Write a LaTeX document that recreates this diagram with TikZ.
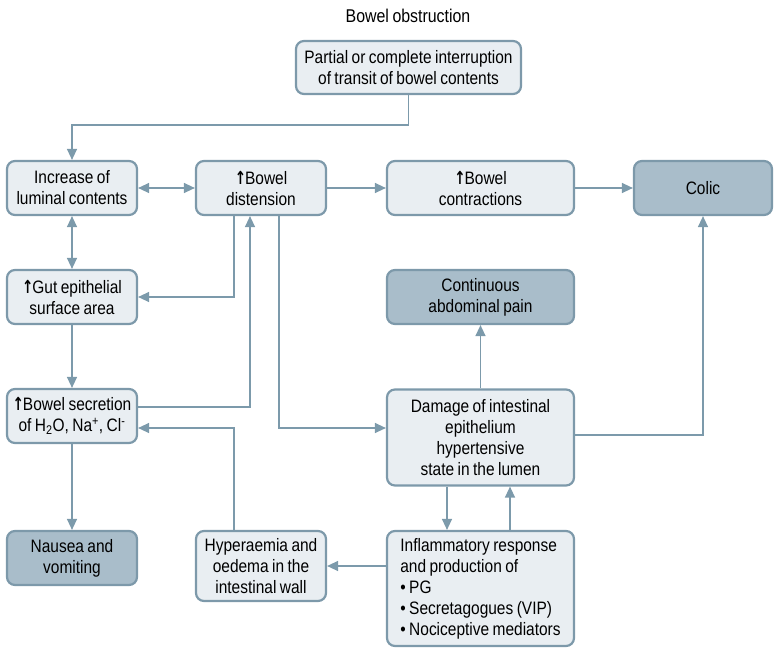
\documentclass[tikz,border=0pt]{standalone}
\usepackage{fontspec}
\setmainfont{Liberation Sans}[FakeStretch=0.86,WordSpace=0.8]
\newfontfamily\arrowfont{DejaVu Sans}[FakeStretch=0.75]
\usetikzlibrary{arrows.meta}
\definecolor{boxline}{HTML}{7D99AA}
\definecolor{lightfill}{HTML}{E9EEF2}
\definecolor{darkfill}{HTML}{A9BDCA}
\definecolor{wireclr}{HTML}{7C9AAB}
\newcommand{\upmark}{{\arrowfont\bfseries ↑}\kern-1pt}
\begin{document}
\begin{tikzpicture}[x=1pt,y=-1pt,
  font=\fontsize{18}{21}\selectfont,
  basebox/.style={draw=boxline, line width=2.2pt, rounded corners=8pt,
    align=center, inner sep=0pt, anchor=center},
  lbox/.style={basebox, fill=lightfill},
  dbox/.style={basebox, fill=darkfill},
  conn/.style={draw=wireclr, line width=1.3pt},
  arr/.style={conn, -{Triangle[length=11pt,width=10pt]}},
  darr/.style={conn, {Triangle[length=11pt,width=10pt]}-{Triangle[length=11pt,width=10pt]}}
]
\useasboundingbox (0,0) rectangle (774,648);

% title
\node[font=\fontsize{18.5}{22}\selectfont] (title) at (408,16) {Bowel obstruction};

% boxes
\node[lbox, minimum width=225pt, minimum height=53pt] (top) at (408.5,67.5)
  {Partial or complete interruption\\of transit of bowel contents};

\node[lbox, minimum width=130pt, minimum height=54pt] (inc) at (72,188)
  {Increase of\\luminal contents};
\node[lbox, minimum width=130pt, minimum height=54pt] (dist) at (261,188)
  {\upmark Bowel\\distension};
\node[lbox, minimum width=187pt, minimum height=54pt] (contr) at (480.5,188)
  {\upmark Bowel\\contractions};
\node[dbox, minimum width=138pt, minimum height=54pt] (colic) at (703,188)
  {Colic};

\node[lbox, minimum width=130pt, minimum height=54pt] (gut) at (72,297)
  {\upmark Gut epithelial\\surface area};
\node[dbox, minimum width=187pt, minimum height=54pt] (pain) at (480.5,297)
  {Continuous\\abdominal pain};

\node[lbox, minimum width=130pt, minimum height=54pt] (sec) at (72,416)
  {\upmark Bowel secretion\\of H\textsubscript{2}O, Na\textsuperscript{+}, Cl\textsuperscript{-}};
\node[lbox, minimum width=187pt, minimum height=96pt] (damage) at (480.5,437.5)
  {Damage of intestinal\\epithelium\\hypertensive\\state in the lumen};

\node[dbox, minimum width=130pt, minimum height=54pt] (nausea) at (72,558)
  {Nausea and\\vomiting};
\node[lbox, minimum width=130pt, minimum height=70pt] (hyper) at (261,566)
  {Hyperaemia and\\oedema in the\\intestinal wall};
\node[lbox, minimum width=187pt, minimum height=115pt, align=left] (infl) at (480.5,588.5)
  {Inflammatory response\\and production of\\\textbullet\ PG\\\textbullet\ Secretagogues (VIP)\\\textbullet\ Nociceptive mediators};

% helper abscissae for vertical wires
\coordinate (xa) at (234,0);
\coordinate (xb) at (250,0);
\coordinate (xc) at (279,0);
\coordinate (xd) at (447,0);
\coordinate (xe) at (510,0);
\coordinate (ylev) at (0,125);

% connectors
\draw[arr] (top.south) -- (top.south |- ylev) -| (inc.north);
\draw[darr] (inc) -- (dist);
\draw[darr] (inc) -- (gut);
\draw[arr] (dist) -- (contr);
\draw[arr] (contr) -- (colic);
\draw[arr] (xa |- dist.south) |- (gut.east);
\draw[arr] ([yshift=9pt]sec.east) -| (xb |- dist.south);
\draw[arr] (xc |- dist.south) |- ([yshift=9.5pt]damage.west);
\draw[arr] (gut) -- (sec);
\draw[arr] (sec) -- (nausea);
\draw[arr] (xa |- hyper.north) |- ([yshift=-12pt]sec.east);
\draw[arr] (infl.west |- hyper.east) -- (hyper.east);
\draw[arr] (xd |- damage.south) -- (xd |- infl.north);
\draw[arr] (xe |- infl.north) -- (xe |- damage.south);
\draw[arr] (damage) -- (pain);
\draw[arr] ([yshift=2.5pt]damage.east) -| (colic.south);
\end{tikzpicture}
\end{document}
